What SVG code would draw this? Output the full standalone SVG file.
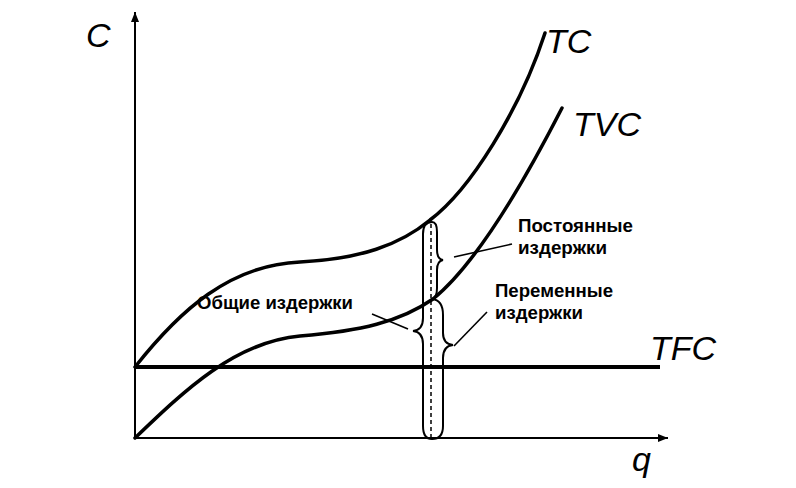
<svg xmlns="http://www.w3.org/2000/svg" width="796" height="488" viewBox="0 0 796 488">
<defs>
<style>
.axis{stroke:#000;stroke-width:2;fill:none}
.curve{stroke:#000;stroke-width:3.5;fill:none;stroke-linecap:round}
.brace{stroke:#000;stroke-width:2;fill:none}
.lead{stroke:#000;stroke-width:1.6;fill:none}
.big{font-family:"Liberation Sans",Arial,sans-serif;font-style:italic;font-size:34px;fill:#000}
.lbl{font-family:"Liberation Sans",Arial,sans-serif;font-weight:bold;font-size:19px;fill:#000}
</style>
<marker id="arr" viewBox="0 0 10 8" refX="10" refY="4" markerWidth="10" markerHeight="8" markerUnits="userSpaceOnUse" orient="auto">
<path d="M0,0 L10,4 L0,8 Z" fill="#000"/>
</marker>
</defs>
<rect width="796" height="488" fill="#fff"/>
<g id="axes">
<path class="axis" d="M135,438 L135,12" marker-end="url(#arr)"/>
<path class="axis" d="M135,438 L668,438" marker-end="url(#arr)"/>
<text class="big" x="86" y="47">C</text>
<text class="big" x="632" y="471">q</text>
</g>
<g id="TFC">
<path d="M135,367 L660,367" stroke="#000" stroke-width="4" fill="none"/>
<text class="big" x="650" y="360">TFC</text>
</g>
<g id="TC">
<path class="curve" d="M135,367 C180,310 230,265 300,262 C360,259 400,245 430,220 C470,190 520,110 545,33"/>
<text class="big" x="546" y="53">TC</text>
</g>
<g id="TVC">
<path class="curve" d="M135,438 C185,390 235,342 300,336 C360,331 400,322 433,299 C475,265 520,190 562,108"/>
<text class="big" x="573" y="136">TVC</text>
</g>
<g id="braces">
<path class="brace" d="M432,222 Q423,222 423,234 L423,318 Q423,330 413,331 Q423,332 423,344 L423,426 Q423,439 432,439"/>
<path class="brace" d="M432,222 Q437,222 437,232 L437,250 Q437,259 443,260 Q437,261 437,270 L437,288 Q437,298 432,299"/>
<path class="brace" d="M432,299 Q443,300 443,315 L443,333 Q443,344 453,345 Q443,346 443,358 L443,426 Q443,439 432,439"/>
<path d="M431,224 L431,437" stroke="#000" stroke-width="1.5" stroke-dasharray="4,3" fill="none"/>
</g>
<g id="connectors">
<path class="lead" d="M454,257 L512,244"/>
<path class="lead" d="M454,346 L487,312"/>
<path class="lead" d="M372,314 L408,329"/>
</g>
<g id="label-fixed">
<text class="lbl" x="518" y="232" textLength="115" lengthAdjust="spacingAndGlyphs">Постоянные</text>
<text class="lbl" x="518" y="254" textLength="89" lengthAdjust="spacingAndGlyphs">издержки</text>
</g>
<g id="label-variable">
<text class="lbl" x="495" y="297" textLength="118" lengthAdjust="spacingAndGlyphs">Переменные</text>
<text class="lbl" x="495" y="319" textLength="88" lengthAdjust="spacingAndGlyphs">издержки</text>
</g>
<g id="label-total">
<text class="lbl" x="197" y="309" textLength="156" lengthAdjust="spacingAndGlyphs">Общие издержки</text>
</g>
</svg>
